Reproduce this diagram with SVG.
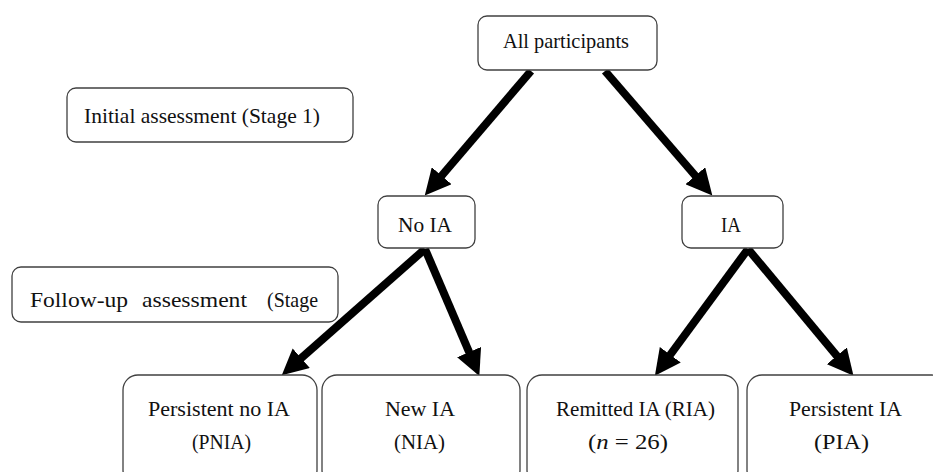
<svg xmlns="http://www.w3.org/2000/svg" width="933" height="472" viewBox="0 0 933 472">
<style>
.box{fill:#fff;stroke:#404040;stroke-width:1.3}
.c{stroke:#000;stroke-width:8;fill:none;marker-end:url(#ah)}
</style>
<defs>
<marker id="ah" viewBox="0 0 26 26" refX="1" refY="13" markerWidth="26" markerHeight="26" markerUnits="userSpaceOnUse" orient="auto">
<path d="M0,0 L26,13 L0,26 z" fill="#000"/>
</marker>
</defs>
<rect width="933" height="472" fill="#fff"/>
<g id="connectors">
<line class="c" x1="531" y1="71" x2="441" y2="176.5"/>
<line class="c" x1="605" y1="71" x2="696" y2="176.5"/>
<line class="c" x1="425" y1="249" x2="300.5" y2="358.8"/>
<line class="c" x1="425" y1="249" x2="469.5" y2="353"/>
<line class="c" x1="748" y1="249" x2="669.7" y2="355.5"/>
<line class="c" x1="748" y1="249" x2="837.5" y2="356.6"/>
</g>
<g font-family="Liberation Serif, Times New Roman, serif" font-size="21" fill="#111" lengthAdjust="spacingAndGlyphs">
<g id="all">
<rect class="box" x="478" y="16" width="179" height="54" rx="9"/>
<text x="503" y="48" textLength="126" lengthAdjust="spacingAndGlyphs">All participants</text>
</g>
<g id="stage1">
<rect class="box" x="67" y="88" width="286" height="54" rx="9"/>
<text x="84" y="123" textLength="236" lengthAdjust="spacingAndGlyphs">Initial assessment (Stage 1)</text>
</g>
<g id="stage2">
<rect class="box" x="12" y="267" width="326" height="55" rx="9"/>
<text x="30" y="307" textLength="98" lengthAdjust="spacingAndGlyphs">Follow-up</text>
<text x="142" y="307" textLength="105" lengthAdjust="spacingAndGlyphs">assessment</text>
<text x="267" y="307" textLength="51" lengthAdjust="spacingAndGlyphs">(Stage</text>
</g>
<g id="noia">
<rect class="box" x="378" y="196" width="97" height="52" rx="9"/>
<text x="398" y="232" textLength="54" lengthAdjust="spacingAndGlyphs">No IA</text>
</g>
<g id="ia">
<rect class="box" x="682" y="196" width="101" height="52" rx="9"/>
<text x="721" y="232" textLength="20" lengthAdjust="spacingAndGlyphs">IA</text>
</g>
<g id="pnia">
<rect class="box" x="123" y="375" width="194" height="110" rx="15"/>
<text x="148" y="416" textLength="142" lengthAdjust="spacingAndGlyphs">Persistent no IA</text>
<text x="192" y="449" textLength="59" lengthAdjust="spacingAndGlyphs">(PNIA)</text>
</g>
<g id="nia">
<rect class="box" x="322" y="375" width="198" height="110" rx="15"/>
<text x="385" y="416" textLength="70" lengthAdjust="spacingAndGlyphs">New IA</text>
<text x="394" y="449" textLength="51" lengthAdjust="spacingAndGlyphs">(NIA)</text>
</g>
<g id="ria">
<rect class="box" x="527" y="375" width="211" height="110" rx="15"/>
<text x="556" y="416" textLength="159" lengthAdjust="spacingAndGlyphs">Remitted IA (RIA)</text>
<text x="588" y="449" textLength="80" lengthAdjust="spacingAndGlyphs">(<tspan font-style="italic">n</tspan> = 26)</text>
</g>
<g id="pia">
<rect class="box" x="747" y="375" width="200" height="110" rx="15"/>
<text x="789" y="416" textLength="113" lengthAdjust="spacingAndGlyphs">Persistent IA</text>
<text x="814" y="449" textLength="55" lengthAdjust="spacingAndGlyphs">(PIA)</text>
</g>
</g>
</svg>
